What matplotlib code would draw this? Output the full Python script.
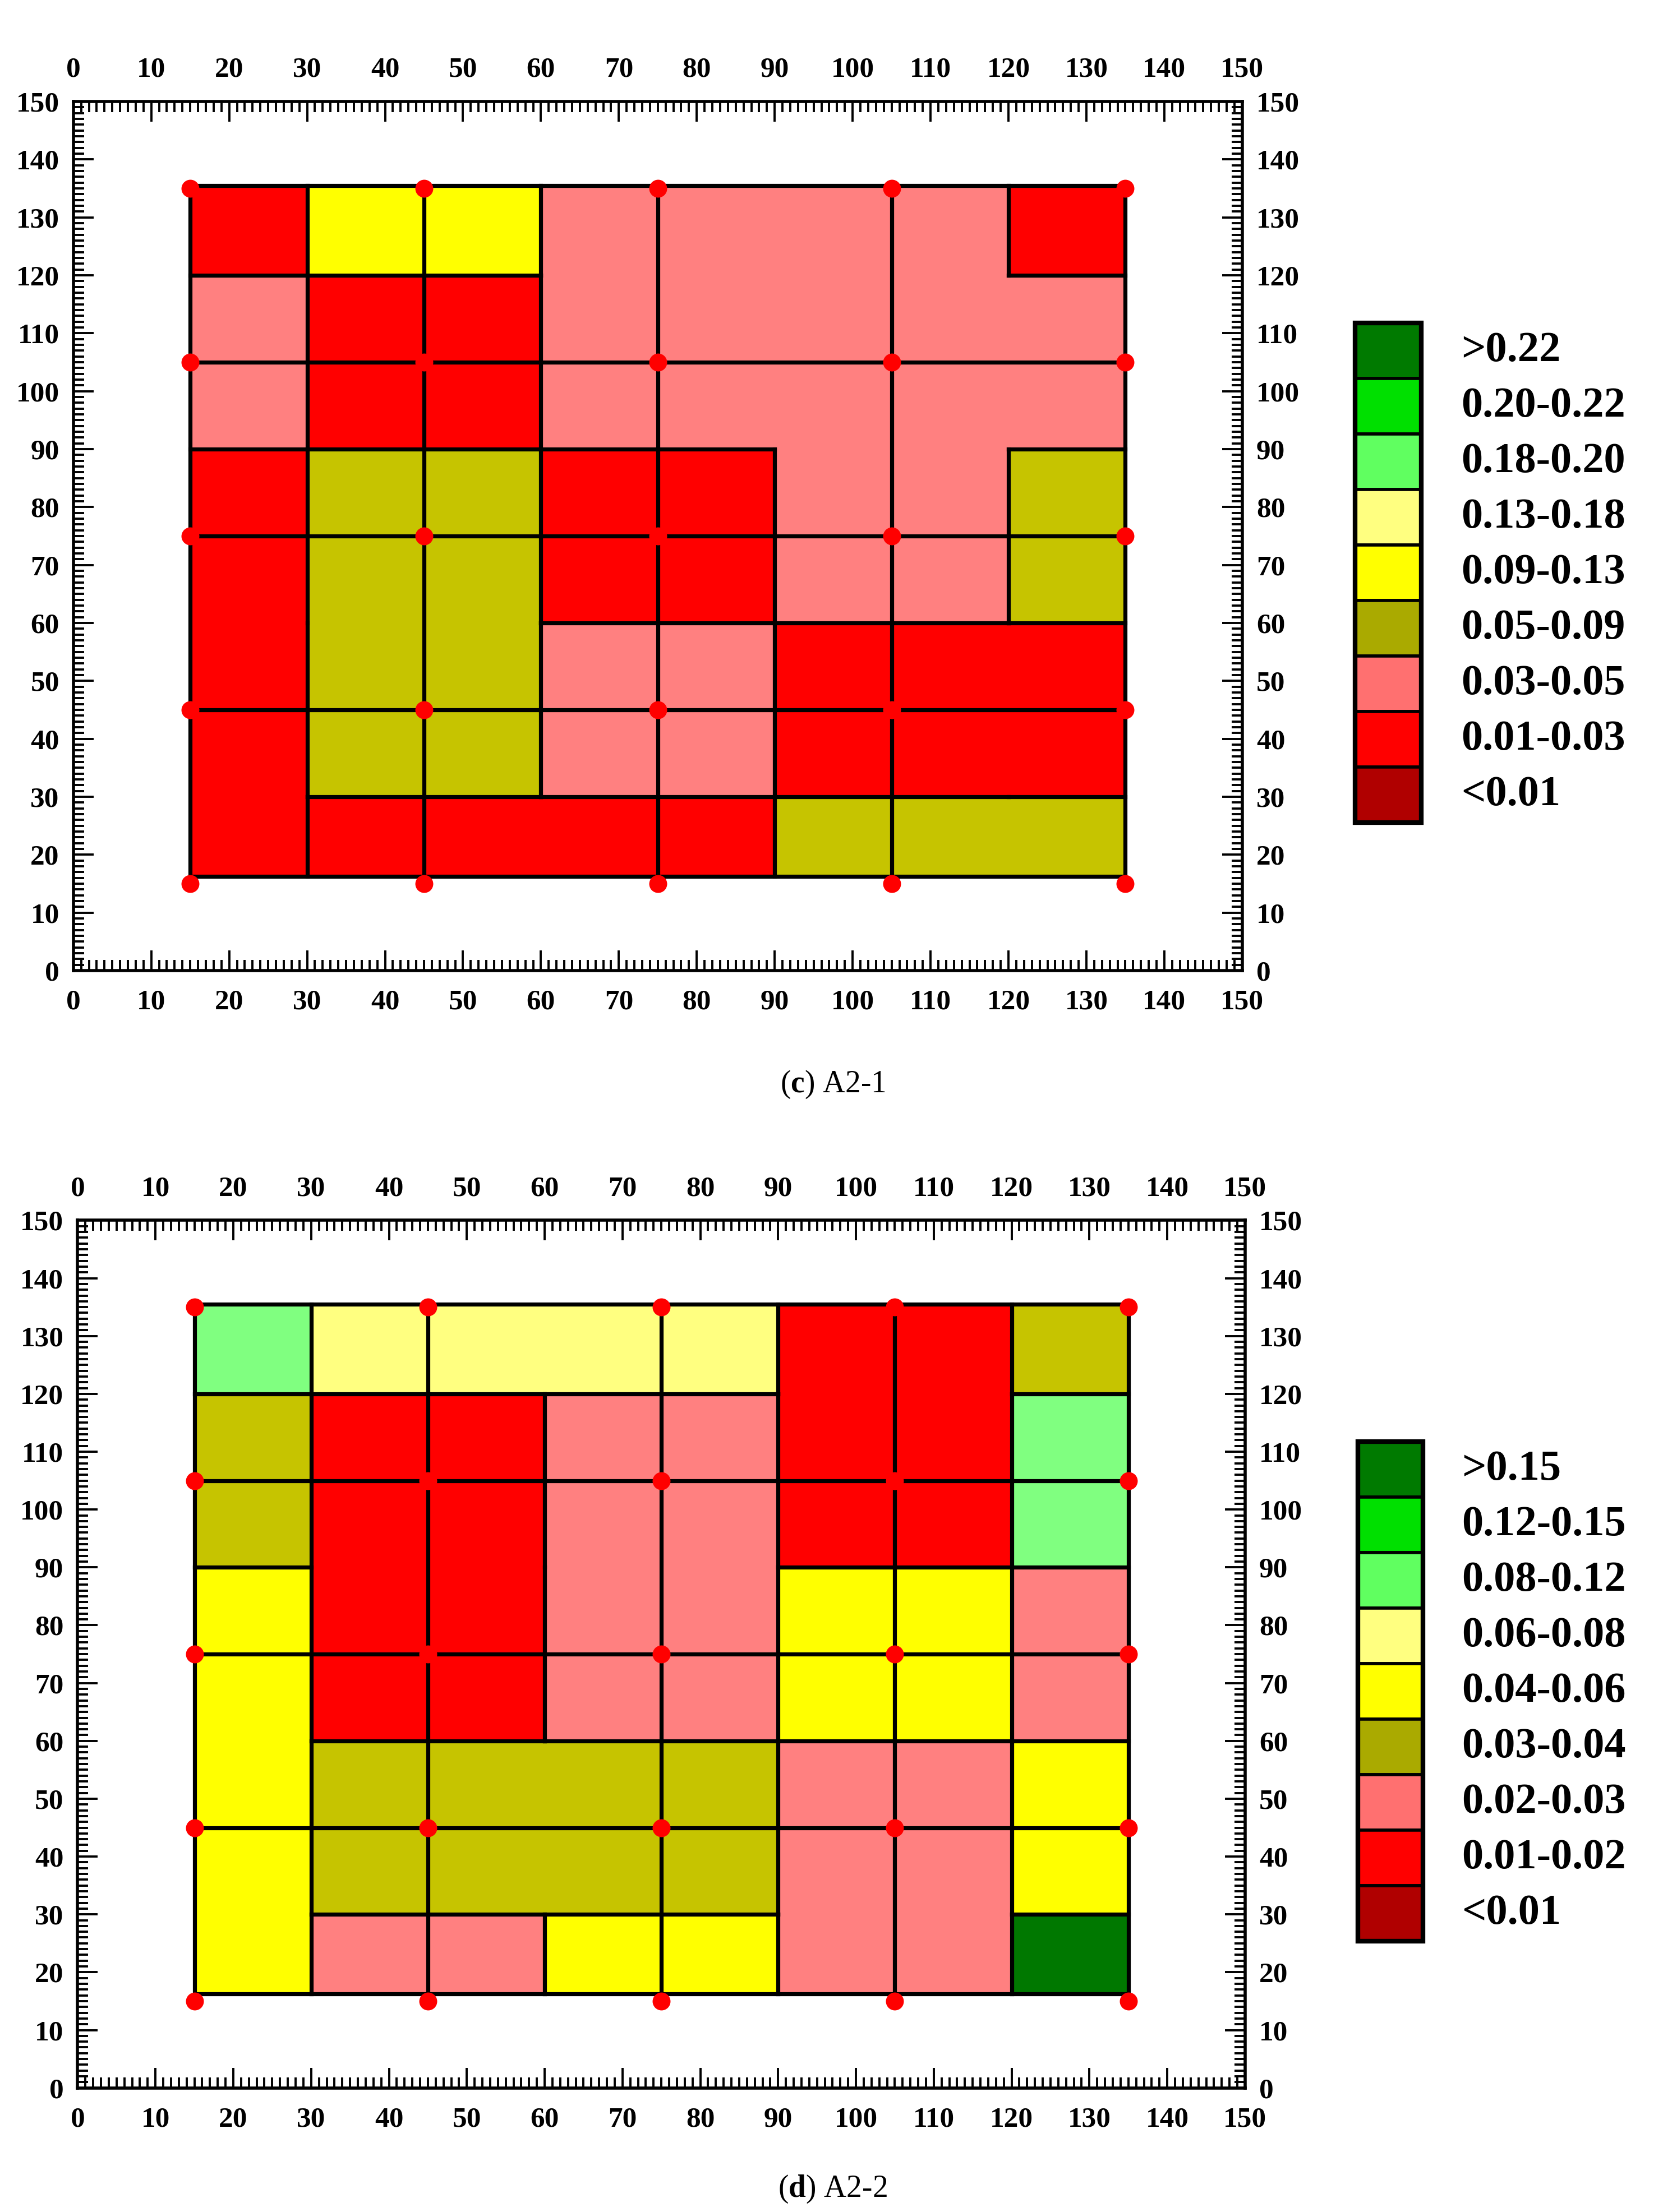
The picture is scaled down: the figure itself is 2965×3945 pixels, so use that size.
import matplotlib
matplotlib.use("Agg")
import matplotlib.pyplot as plt
import numpy as np
from matplotlib.colors import ListedColormap, BoundaryNorm
from matplotlib.patches import Rectangle
from matplotlib.ticker import MultipleLocator

plt.rcParams['font.family'] = ['Liberation Serif', 'DejaVu Serif']
plt.rcParams['mathtext.fontset'] = 'custom'
plt.rcParams['mathtext.rm'] = 'Liberation Serif'
plt.rcParams['mathtext.bf'] = 'Liberation Serif:bold'

# legend classes, top to bottom (index 0 = highest)
labels_c = ['>0.22', '0.20-0.22', '0.18-0.20', '0.13-0.18', '0.09-0.13',
            '0.05-0.09', '0.03-0.05', '0.01-0.03', '<0.01']
labels_d = ['>0.15', '0.12-0.15', '0.08-0.12', '0.06-0.08', '0.04-0.06',
            '0.03-0.04', '0.02-0.03', '0.01-0.02', '<0.01']
legend_colors = ['#007a00', '#00e000', '#60ff60', '#ffff80', '#ffff00',
                 '#aaaa00', '#ff7070', '#ff0000', '#b00000']
map_colors = ['#007800', '#00e000', '#80ff80', '#ffff80', '#ffff00',
              '#c6c400', '#ff8080', '#ff0000', '#b00000']

# cell edges of the measured zone
x_edges = [15, 30, 45, 60, 75, 90, 105, 120, 135]
y_edges = [16.3, 30, 45, 60, 75, 90, 105, 120, 135.5]
# measuring points
pts = [15, 45, 75, 105, 135]

# region ids per cell, rows from top (y 120-135) to bottom (y 15-30)
regions_c = ['ABBPPPPC',
             'DEEPPPPP',
             'DEEPPPPP',
             'FGGHHPPI',
             'FGGHHPPI',
             'FGGJJKKK',
             'FGGJJKKK',
             'FLLLLMMM']
# class index of each region (index into the legend list)
classes_c = {'A': 7, 'B': 4, 'C': 7, 'P': 6, 'D': 6, 'E': 7, 'F': 7,
             'G': 5, 'H': 7, 'I': 5, 'J': 6, 'K': 7, 'L': 7, 'M': 5}

regions_d = ['abbbbccd',
             'effggcch',
             'effggcch',
             'iffggjjk',
             'iffggjjk',
             'illllmmn',
             'illllmmn',
             'iooppmmq']
classes_d = {'a': 2, 'b': 3, 'c': 7, 'd': 5, 'e': 5, 'f': 7, 'g': 6,
             'h': 2, 'i': 4, 'j': 4, 'k': 6, 'l': 5, 'm': 6, 'n': 4,
             'o': 6, 'p': 4, 'q': 0}


def draw_map(ax, regions, classes):
    rows = regions[::-1]  # bottom row first
    grid = np.array([[classes[r] for r in row] for row in rows])
    cmap = ListedColormap(map_colors)
    norm = BoundaryNorm(np.arange(-0.5, 9.5, 1), cmap.N)
    ax.pcolormesh(x_edges, y_edges, grid, cmap=cmap, norm=norm, zorder=1)

    lw = 5.2
    ny, nx = grid.shape
    # region outlines
    for j in range(ny):
        for i in range(nx):
            rid = rows[j][i]
            if i + 1 < nx and rows[j][i + 1] != rid:
                ax.plot([x_edges[i + 1]] * 2, [y_edges[j], y_edges[j + 1]],
                        color='black', lw=lw, solid_capstyle='projecting', zorder=3)
            if j + 1 < ny and rows[j + 1][i] != rid:
                ax.plot([x_edges[i], x_edges[i + 1]], [y_edges[j + 1]] * 2,
                        color='black', lw=lw, solid_capstyle='projecting', zorder=3)
    ax.add_patch(Rectangle((x_edges[0], y_edges[0]), x_edges[-1] - x_edges[0],
                           y_edges[-1] - y_edges[0], fill=False,
                           ec='black', lw=lw, zorder=3))
    # lines through the measuring points
    for p in pts[1:-1]:
        ax.plot([p, p], [y_edges[0], y_edges[-1]], color='black', lw=lw, zorder=3)
        ax.plot([x_edges[0], x_edges[-1]], [p, p], color='black', lw=lw, zorder=3)

    X, Y = np.meshgrid(pts, pts)
    ax.plot(X.ravel(), Y.ravel(), 'o', color='#ff0000', ms=23, mec='none',
            zorder=4, clip_on=False)

    ax.set_xlim(0, 150)
    ax.set_ylim(0, 150)
    ax.xaxis.set_major_locator(MultipleLocator(10))
    ax.yaxis.set_major_locator(MultipleLocator(10))
    ax.xaxis.set_minor_locator(MultipleLocator(1))
    ax.yaxis.set_minor_locator(MultipleLocator(1))
    ax.tick_params(which='both', direction='in', top=True, right=True,
                   labeltop=True, labelright=True, width=2.8)
    ax.tick_params(which='major', length=26, labelsize=37)
    ax.tick_params(which='minor', length=14)
    ax.tick_params(axis='x', pad=24)
    ax.tick_params(axis='y', pad=18)
    for lab in ax.get_xticklabels() + ax.get_yticklabels():
        lab.set_fontweight('bold')
    for s in ax.spines.values():
        s.set_linewidth(4)


def draw_legend(rect, labels):
    lax = fig.add_axes(rect)
    lax.set_xlim(0, 1)
    lax.set_ylim(0, 9)
    lax.axis('off')
    for i, (lab, col) in enumerate(zip(labels, legend_colors)):
        lax.add_patch(Rectangle((0, 8 - i), 1, 1, fc=col, ec='black', lw=4,
                                clip_on=False))
        lax.text(1.6, 8 - i + 0.5, lab, ha='left', va='center', fontsize=55,
                 fontweight='bold', clip_on=False)
    lax.add_patch(Rectangle((0, 0), 1, 9, fill=False, ec='black', lw=6,
                            clip_on=False))


fig = plt.figure(figsize=(29.65, 39.45), dpi=100)

ax1 = fig.add_axes([0.0441, 0.5612, 0.7029, 0.3929])
draw_map(ax1, regions_c, classes_c)
draw_legend([0.8149, 0.6282, 0.0399, 0.2258], labels_c)
fig.text(0.5008, 0.5096, r'($\mathbf{c}$) A2-1', ha='center', va='center',
         fontsize=40)

ax2 = fig.add_axes([0.0467, 0.0561, 0.7020, 0.3922])
draw_map(ax2, regions_d, classes_d)
draw_legend([0.8166, 0.1224, 0.0390, 0.2258], labels_d)
fig.text(0.5008, 0.0102, r'($\mathbf{d}$) A2-2', ha='center', va='center',
         fontsize=40)

fig.savefig('out.png', dpi=100)
